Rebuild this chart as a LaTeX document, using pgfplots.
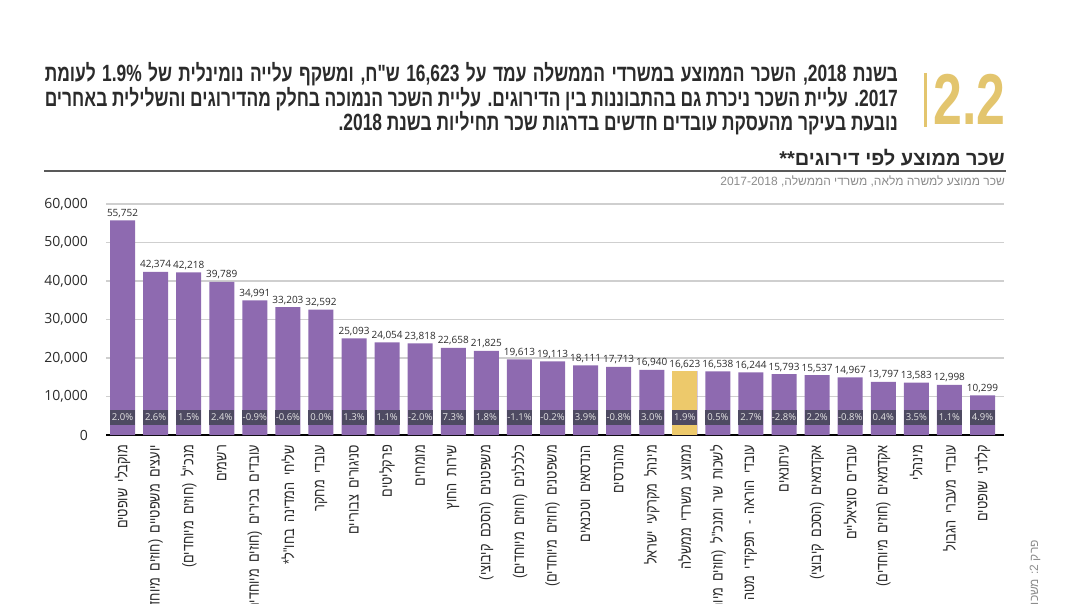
\documentclass[border=0pt]{standalone}
\usepackage{pgfplots}
\pgfplotsset{compat=1.18}
\usepackage{pgfplotstable}
\usepackage{fontspec}
\setmainfont{Open Sans}
\newfontfamily\numf{Open Sans}
\newfontfamily\heb[Script=Hebrew,FakeStretch=0.82,WordSpace=1.8]{Liberation Sans}
\newfontfamily\hebt[Script=Hebrew,FakeStretch=0.74]{Liberation Sans}
\newfontfamily\hebw[Script=Hebrew]{Liberation Sans}
\newfontfamily\bigdig[FakeStretch=0.72]{Liberation Sans}
\TeXXeTstate=1

\definecolor{barpurple}{HTML}{8E6AB0}
\definecolor{avgyellow}{HTML}{EDC96B}
\definecolor{pctbox}{HTML}{4E4A62}
\definecolor{gold}{HTML}{E3C56E}
\definecolor{txt}{HTML}{2B2B2B}
\definecolor{gridc}{HTML}{CFCFCF}

% average wage by grade, 2018, and change vs 2017 (%)
\pgfplotstableread{
x val pct
0 55752 2.0
1 42374 2.6
2 42218 1.5
3 39789 2.4
4 34991 -0.9
5 33203 -0.6
6 32592 0.0
7 25093 1.3
8 24054 1.1
9 23818 -2.0
10 22658 7.3
11 21825 1.8
12 19613 -1.1
13 19113 -0.2
14 18111 3.9
15 17713 -0.8
16 16940 3.0
17 16623 1.9
18 16538 0.5
19 16244 2.7
20 15793 -2.8
21 15537 2.2
22 14967 -0.8
23 13797 0.4
24 13583 3.5
25 12998 1.1
26 10299 4.9
}\wages

\begin{document}
\begin{tikzpicture}

% heading
\node[anchor=base east, inner sep=0pt, text=txt] at (898pt,-82pt)
  {\hebt\bfseries\fontsize{23.5}{27}\selectfont\makebox[853pt][s]{\beginR בשנת 2018, השכר הממוצע במשרדי הממשלה עמד על 16,623 ש"ח, ומשקף עלייה נומינלית של 1.9\% לעומת\endR}};
\node[anchor=base east, inner sep=0pt, text=txt] at (898pt,-107pt)
  {\hebt\bfseries\fontsize{23.5}{27}\selectfont\makebox[853pt][s]{\beginR 2017. עליית השכר ניכרת גם בהתבוננות בין הדירוגים. עליית השכר הנמוכה בחלק מהדירוגים והשלילית באחרים\endR}};
\node[anchor=base east, inner sep=0pt, text=txt] at (898pt,-131pt)
  {\hebt\bfseries\fontsize{23.5}{27}\selectfont\beginR נובעת בעיקר מהעסקת עובדים חדשים בדרגות שכר תחיליות בשנת 2018.\endR};

\draw[gold, line width=3pt] (925pt,-73pt) -- (925pt,-127pt);
\node[anchor=base west, inner sep=0pt, text=gold] at (933pt,-125pt)
  {\bigdig\bfseries\fontsize{72}{72}\selectfont 2.2};

\node[anchor=base east, inner sep=0pt, text=txt] at (1005pt,-166pt)
  {\hebw\bfseries\fontsize{20}{23}\selectfont\beginR שכר ממוצע לפי דירוגים**\endR};
\draw[color=black!65, line width=1.6pt] (44pt,-171pt) -- (1006pt,-171pt);
\node[anchor=base east, inner sep=0pt, text=black!45] at (1005pt,-186pt)
  {\hebw\fontsize{12}{14}\selectfont\beginR שכר ממוצע למשרה מלאה, משרדי הממשלה, 2017-2018\endR};

\node[anchor=east, rotate=90, inner sep=0pt, text=black!45] at (1035pt,-540pt)
  {\hebw\fontsize{12}{14}\selectfont\beginR פרק 2: משכורות\endR};

\begin{axis}[
    at={(106pt,-435pt)}, anchor=south west,
    scale only axis, width=898pt, height=231pt,
    xmin=-0.5, xmax=26.65, ymin=0, ymax=60000,
    enlargelimits=false, clip=false,
    axis x line*=bottom, axis y line*=left,
    x axis line style={black, line width=1.8pt},
    y axis line style={draw=none},
    tick style={draw=none},
    ymajorgrids, major grid style={gridc, line width=1.3pt},
    ytick={0,10000,...,60000},
    scaled y ticks=false,
    /pgf/number format/assume math mode=true,
    /pgf/number format/1000 sep={,},
    yticklabel style={font=\numf\fontsize{14}{14}\selectfont, text=txt, inner sep=0pt},
    yticklabel shift=18pt,
    xtick={0,...,26},
    xticklabels={
      {\beginR מוקבלי שופטים\endR},
      {\beginR יועצים משפטיים (חוזים מיוחדים)\endR},
      {\beginR מנכ"ל (חוזים מיוחדים)\endR},
      {\beginR רשמים\endR},
      {\beginR עובדים בכירים (חוזים מיוחדים)\endR},
      {\beginR שליחי המדינה בחו"ל*\endR},
      {\beginR עובדי מחקר\endR},
      {\beginR סניגורים צבוריים\endR},
      {\beginR פרקליטים\endR},
      {\beginR מומחים\endR},
      {\beginR שירות החוץ\endR},
      {\beginR משפטנים (הסכם קיבוצי)\endR},
      {\beginR כלכלנים (חוזים מיוחדים)\endR},
      {\beginR משפטנים (חוזים מיוחדים)\endR},
      {\beginR הנדסאים וטכנאים\endR},
      {\beginR מהנדסים\endR},
      {\beginR מינהל מקרקעי ישראל\endR},
      {\beginR ממוצע משרדי ממשלה\endR},
      {\beginR לשכות שר ומנכ"ל (חוזים מיוחדים)\endR},
      {\beginR עובדי הוראה - תפקידי מטה\endR},
      {\beginR עיתונאים\endR},
      {\beginR אקדמאים (הסכם קיבוצי)\endR},
      {\beginR עובדים סוציאליים\endR},
      {\beginR אקדמאים (חוזים מיוחדים)\endR},
      {\beginR מינהלי\endR},
      {\beginR עובדי מעברי הגבול\endR},
      {\beginR קלדני שופטים\endR}},
    xticklabel style={rotate=90, anchor=east, inner sep=0pt,
      font=\heb\fontsize{15.5}{17}\selectfont, text=txt},
    xticklabel shift=10pt,
]

\addplot[ybar, bar width=25pt, bar shift=0pt, fill=barpurple, draw=none,
    point meta=explicit,
    nodes near coords={\pgfmathprintnumber[fixed, precision=0, 1000 sep={,}]{\pgfplotspointmeta}},
    every node near coord/.append style={font=\numf\fontsize{10}{10}\selectfont,
      text=txt, inner sep=1.5pt, anchor=south, yshift=1pt}]
  table[x=x, y=val, meta=val] {\wages};

\addplot[ybar, bar width=25pt, bar shift=0pt, fill=avgyellow, draw=none]
  coordinates {(17,16623)};

\addplot[draw=none, mark=none, point meta=explicit,
    nodes near coords={\pgfmathprintnumber[fixed, fixed zerofill, precision=1]{\pgfplotspointmeta}\%},
    every node near coord/.append style={anchor=south, fill=pctbox, text=white!90!black,
      minimum width=25pt, minimum height=15pt, inner sep=0pt,
      font=\numf\fontsize{9.5}{10}\selectfont}]
  table[x=x, y expr=2600, meta=pct] {\wages};

\end{axis}

\pgfresetboundingbox
\useasboundingbox (0pt,0pt) rectangle (1076pt,-604pt);
\end{tikzpicture}
\end{document}
